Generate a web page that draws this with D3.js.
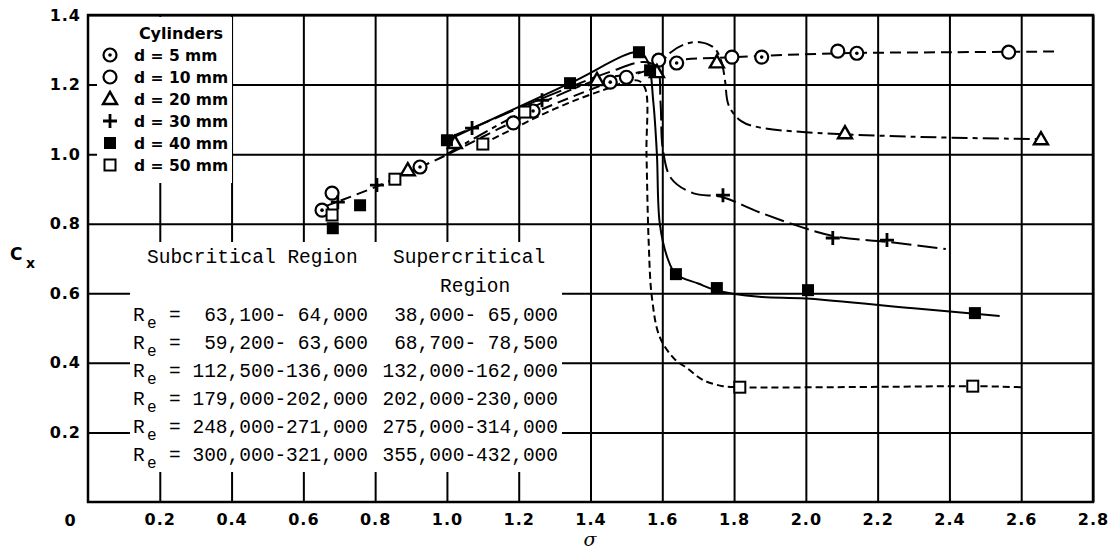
<!DOCTYPE html>
<html>
<head>
<meta charset="utf-8">
<script src="https://cdn.jsdelivr.net/npm/d3@7"></script>
<style>
body { margin: 0; background: #fff; }
</style>
</head>
<body>
<svg id="chart" width="1111" height="552"></svg>
<script>
// measured points [sigma, Cx]
var d5 = [[0.652,0.839],[0.925,0.963],[1.24,1.124],[1.455,1.207],[1.64,1.262],[1.877,1.279],[2.142,1.290]]
var d10 = [[0.68,0.888],[1.185,1.09],[1.50,1.221],[1.59,1.27],[1.794,1.279],[2.089,1.296],[2.565,1.293]]
var d20 = [[0.891,0.954],[1.022,1.032],[1.418,1.213],[1.585,1.236],[1.752,1.264],[2.109,1.060],[2.655,1.043]]
var d30 = [[0.696,0.862],[0.805,0.911],[1.07,1.075],[1.265,1.155],[1.769,0.882],[2.075,0.759],[2.226,0.753]]
var d40 = [[0.682,0.787],[0.758,0.853],[1.0,1.040],[1.343,1.204],[1.535,1.293],[1.566,1.241],[1.638,0.655],[1.752,0.615],[2.006,0.609],[2.471,0.543]]
var d50 = [[0.68,0.825],[0.855,0.928],[1.10,1.029],[1.217,1.121],[1.816,0.330],[2.465,0.333]]

// faired curves as drawn on the figure
var curve5_10 = [[0.66,0.85],[0.80,0.905],[0.93,0.965],[1.0,0.998],[1.2,1.10],[1.45,1.205],[1.55,1.238],[1.62,1.266],[1.80,1.279],[2.1,1.29],[2.4,1.293],[2.7,1.295]]
var curve20 = [[1.0,1.0],[1.2,1.115],[1.418,1.213],[1.52,1.232],[1.585,1.25],[1.62,1.29],[1.66,1.315],[1.705,1.322],[1.745,1.305],[1.765,1.265],[1.775,1.21],[1.785,1.14],[1.82,1.095],[1.87,1.077],[2.0,1.063],[2.3,1.05],[2.655,1.043]]
var curve30 = [[1.0,1.045],[1.07,1.075],[1.265,1.16],[1.45,1.235],[1.55,1.265],[1.585,1.25],[1.595,1.15],[1.602,1.01],[1.625,0.93],[1.685,0.888],[1.769,0.876],[1.87,0.833],[2.075,0.765],[2.226,0.748],[2.39,0.727]]
var curve40 = [[1.0,1.04],[1.343,1.204],[1.535,1.293],[1.56,1.265],[1.575,1.15],[1.585,1.0],[1.593,0.8],[1.615,0.70],[1.638,0.655],[1.70,0.628],[1.752,0.608],[1.87,0.59],[2.0,0.585],[2.3,0.557],[2.54,0.535]]
var curve50 = [[1.10,1.029],[1.3,1.13],[1.435,1.184],[1.53,1.212],[1.552,1.19],[1.556,1.0],[1.562,0.75],[1.571,0.589],[1.593,0.474],[1.635,0.41],[1.669,0.385],[1.713,0.351],[1.769,0.333],[1.816,0.330],[2.2,0.331],[2.465,0.333],[2.6,0.330]]

var xTicks = [0.2,0.4,0.6,0.8,1.0,1.2,1.4,1.6,1.8,2.0,2.2,2.4,2.6,2.8]
var yTicks = [0.2,0.4,0.6,0.8,1.0,1.2,1.4]
var legendNames = ["d = 5 mm","d = 10 mm","d = 20 mm","d = 30 mm","d = 40 mm","d = 50 mm"]
var reSub = ["63,100- 64,000","59,200- 63,600","112,500-136,000","179,000-202,000","248,000-271,000","300,000-321,000"]
var reSup = ["38,000- 65,000","68,700- 78,500","132,000-162,000","202,000-230,000","275,000-314,000","355,000-432,000"]

var svg = d3.select("#chart")
var x = d3.scaleLinear().domain([0,2.8]).range([88,1093])
var y = d3.scaleLinear().domain([0,1.4]).range([502,15])
var bold = "'DejaVu Sans', sans-serif"
var mono = "'Liberation Mono', 'Courier New', monospace"

// grid
var gx = svg.append("g").attr("transform","translate(0,502)")
    .call(d3.axisBottom(x).tickValues(xTicks).tickSize(-487).tickPadding(12).tickFormat(d3.format(".1f")))
var gy = svg.append("g").attr("transform","translate(88,0)")
    .call(d3.axisLeft(y).tickValues(yTicks).tickSize(-1005).tickPadding(7).tickFormat(d3.format(".1f")))
gx.select(".domain").remove()
gy.select(".domain").remove()
svg.selectAll(".tick line").attr("stroke","#000").attr("stroke-width",2)
svg.selectAll(".tick text").attr("fill","#000").attr("font-family",bold).attr("font-weight","bold").attr("font-size","16px").attr("letter-spacing","1px")

// blank areas behind legend and table (grid is broken there)
svg.append("rect").attr("x",97).attr("y",17).attr("width",135).attr("height",166).attr("fill","#fff")
svg.append("rect").attr("x",130).attr("y",242).attr("width",432).attr("height",230).attr("fill","#fff")

svg.append("rect").attr("x",88).attr("y",15).attr("width",1005).attr("height",487)
    .attr("fill","none").attr("stroke","#000").attr("stroke-width",2.5)

svg.append("text").text("0").attr("x",70).attr("y",526).attr("text-anchor","middle")
    .attr("font-family",bold).attr("font-weight","bold").attr("font-size","16px")

// curves
var line = d3.line().x(function(d){return x(d[0])}).y(function(d){return y(d[1])}).curve(d3.curveCatmullRom.alpha(0.5))
var curves = [[curve5_10,"11,6"],[curve20,"16,5,5,5"],[curve30,"20,6"],[curve40,null],[curve50,"7,4"]]
curves.forEach(function(c){
    svg.append("path").attr("d",line(c[0])).attr("fill","none").attr("stroke","#000")
        .attr("stroke-width",2).attr("stroke-dasharray",c[1])
})

// markers
function marker(g, kind, cx, cy) {
    if (kind===0 || kind===1) {
        g.append("circle").attr("cx",cx).attr("cy",cy).attr("r",6.5).attr("fill","#fff").attr("stroke","#000").attr("stroke-width",2.2)
        if (kind===0) g.append("circle").attr("cx",cx).attr("cy",cy).attr("r",1.8).attr("fill","#000")
    } else if (kind===2) {
        g.append("path").attr("d",d3.symbol().type(d3.symbolTriangle).size(85)()).attr("transform","translate("+cx+","+(cy+1)+")")
            .attr("fill","#fff").attr("stroke","#000").attr("stroke-width",2.4)
    } else if (kind===3) {
        g.append("path").attr("d","M"+(cx-7)+","+cy+"H"+(cx+7)+"M"+cx+","+(cy-7)+"V"+(cy+7))
            .attr("stroke","#000").attr("stroke-width",2.8)
    } else if (kind===4) {
        g.append("rect").attr("x",cx-6).attr("y",cy-6).attr("width",12).attr("height",12).attr("fill","#000")
    } else {
        g.append("rect").attr("x",cx-5.5).attr("y",cy-5.5).attr("width",11).attr("height",11).attr("fill","#fff").attr("stroke","#000").attr("stroke-width",2)
    }
}
var series = [d5,d10,d20,d30,d40,d50]
var mg = svg.append("g")
series.forEach(function(s,k){
    s.forEach(function(p){ marker(mg,k,x(p[0]),y(p[1])) })
})

// legend
svg.append("text").text("Cylinders").attr("x",181).attr("y",39).attr("text-anchor","middle")
    .attr("font-family",bold).attr("font-weight","bold").attr("font-size","16px")
legendNames.forEach(function(n,i){
    var cy = 55 + i*22
    marker(svg, i, 110, cy)
    svg.append("text").text(n).attr("x",134).attr("y",cy+6)
        .attr("font-family",bold).attr("font-weight","bold").attr("font-size","15.5px")
})

// Reynolds number table
var tf = function(s, xx, yy, anchor) {
    return svg.append("text").text(s).attr("x",xx).attr("y",yy).attr("text-anchor",anchor||"start")
        .attr("font-family",mono).attr("font-size","19.5px").attr("fill","#000")
}
tf("Subcritical Region",147,263)
tf("Supercritical",393,263)
tf("Region",440,292)
reSub.forEach(function(s,i){
    var by = 321 + i*28
    tf("R",133,by)
    svg.append("text").text("e").attr("x",147).attr("y",by+7).attr("font-family",mono).attr("font-size","16px")
    tf("=",169,by)
    tf(s,368,by,"end")
    tf(reSup[i],558,by,"end")
})

// axis titles
svg.append("text").text("C").attr("x",10).attr("y",260).attr("font-family",bold).attr("font-weight","bold").attr("font-size","17px")
svg.append("text").text("x").attr("x",26).attr("y",268).attr("font-family",bold).attr("font-weight","bold").attr("font-size","14px")
svg.append("text").text("σ").attr("x",590).attr("y",546).attr("text-anchor","middle")
    .attr("font-family","'DejaVu Serif', serif").attr("font-style","italic").attr("font-size","19px")
</script>
</body>
</html>
